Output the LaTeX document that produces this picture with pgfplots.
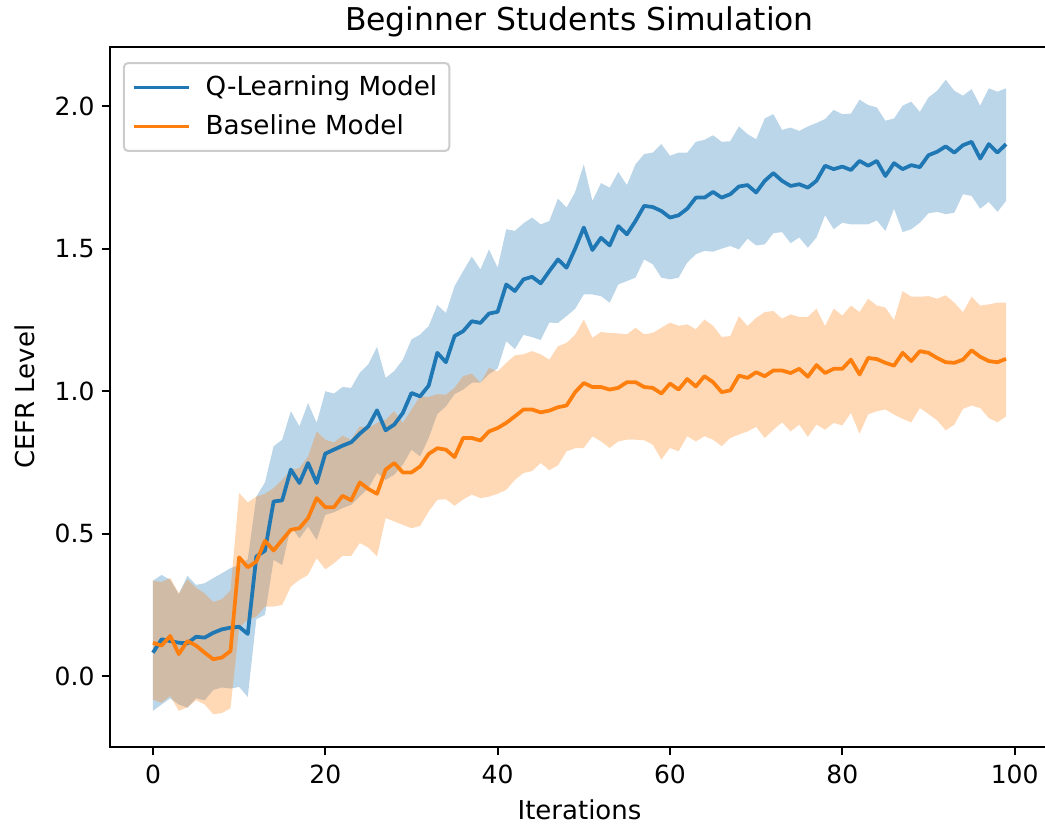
\documentclass[border=0pt]{standalone}
\usepackage{fontspec}
\setmainfont{DejaVu Sans}
\usepackage{pgfplots}
\usepackage{pgfplotstable}
\pgfplotsset{compat=1.18}
\usepgfplotslibrary{fillbetween}

\definecolor{qblue}{HTML}{1F77B4}
\definecolor{borange}{HTML}{FF7F0E}

% iteration, mean CEFR level, mean - sd, mean + sd
\pgfplotstableread{
it mean lo hi
0 0.082 -0.122 0.335
1 0.129 -0.100 0.355
2 0.123 -0.078 0.338
3 0.117 -0.100 0.288
4 0.115 -0.111 0.352
5 0.138 -0.078 0.320
6 0.135 -0.085 0.326
7 0.152 -0.049 0.344
8 0.164 -0.040 0.361
9 0.170 -0.044 0.379
10 0.173 -0.038 0.390
11 0.148 -0.073 0.410
12 0.420 0.200 0.630
13 0.440 0.215 0.680
14 0.613 0.408 0.807
15 0.617 0.390 0.830
16 0.725 0.525 0.930
17 0.678 0.484 0.877
18 0.748 0.525 0.959
19 0.678 0.478 0.889
20 0.781 0.566 1.000
21 0.795 0.575 0.992
22 0.809 0.590 1.015
23 0.821 0.601 1.012
24 0.851 0.631 1.065
25 0.877 0.660 1.095
26 0.933 0.713 1.156
27 0.863 0.689 1.047
28 0.883 0.707 1.071
29 0.924 0.742 1.111
30 0.994 0.795 1.182
31 0.982 0.771 1.199
32 1.020 0.836 1.229
33 1.135 0.920 1.303
34 1.102 0.947 1.275
35 1.194 0.990 1.369
36 1.211 1.006 1.422
37 1.246 1.030 1.473
38 1.240 1.030 1.428
39 1.273 1.060 1.498
40 1.279 1.080 1.434
41 1.375 1.176 1.569
42 1.352 1.148 1.563
43 1.393 1.198 1.590
44 1.402 1.190 1.610
45 1.379 1.180 1.586
46 1.422 1.241 1.598
47 1.463 1.240 1.677
48 1.434 1.264 1.645
49 1.501 1.290 1.700
50 1.575 1.340 1.797
51 1.496 1.340 1.668
52 1.539 1.334 1.731
53 1.512 1.311 1.715
54 1.580 1.375 1.770
55 1.551 1.387 1.724
56 1.598 1.399 1.797
57 1.651 1.463 1.833
58 1.647 1.446 1.838
59 1.633 1.399 1.868
60 1.610 1.393 1.827
61 1.618 1.399 1.838
62 1.641 1.452 1.838
63 1.680 1.481 1.876
64 1.680 1.493 1.883
65 1.700 1.490 1.899
66 1.680 1.501 1.876
67 1.692 1.510 1.878
68 1.719 1.498 1.930
69 1.724 1.536 1.903
70 1.698 1.512 1.885
71 1.739 1.516 1.958
72 1.766 1.555 1.973
73 1.739 1.559 1.918
74 1.721 1.520 1.926
75 1.727 1.540 1.914
76 1.715 1.504 1.930
77 1.739 1.540 1.942
78 1.792 1.618 1.956
79 1.780 1.569 1.988
80 1.789 1.592 1.973
81 1.777 1.586 1.975
82 1.809 1.586 2.024
83 1.792 1.586 2.005
84 1.809 1.600 1.997
85 1.756 1.563 1.950
86 1.801 1.641 1.958
87 1.780 1.559 2.003
88 1.794 1.569 2.017
89 1.787 1.592 1.981
90 1.829 1.625 2.032
91 1.841 1.630 2.055
92 1.860 1.622 2.094
93 1.838 1.627 2.055
94 1.864 1.692 2.038
95 1.876 1.686 2.061
96 1.817 1.641 2.003
97 1.868 1.665 2.064
98 1.838 1.630 2.052
99 1.868 1.668 2.064
}\qtable

\pgfplotstableread{
it mean lo hi
0 0.117 -0.083 0.335
1 0.107 -0.094 0.330
2 0.141 -0.070 0.345
3 0.077 -0.122 0.290
4 0.123 -0.110 0.340
5 0.107 -0.085 0.310
6 0.082 -0.100 0.290
7 0.059 -0.134 0.260
8 0.065 -0.130 0.270
9 0.088 -0.113 0.300
10 0.417 0.170 0.643
11 0.382 0.197 0.610
12 0.402 0.209 0.630
13 0.475 0.244 0.640
14 0.441 0.244 0.660
15 0.478 0.250 0.689
16 0.514 0.314 0.725
17 0.519 0.338 0.730
18 0.555 0.355 0.771
19 0.625 0.414 0.859
20 0.593 0.375 0.830
21 0.593 0.396 0.820
22 0.633 0.422 0.844
23 0.617 0.422 0.830
24 0.680 0.467 0.877
25 0.657 0.451 0.870
26 0.640 0.420 0.889
27 0.725 0.555 0.900
28 0.748 0.543 0.930
29 0.715 0.531 0.889
30 0.715 0.519 0.936
31 0.736 0.527 0.982
32 0.780 0.578 0.980
33 0.800 0.619 0.990
34 0.795 0.621 0.988
35 0.769 0.598 1.012
36 0.836 0.620 1.053
37 0.836 0.637 1.062
38 0.827 0.625 1.030
39 0.859 0.630 1.082
40 0.871 0.640 1.070
41 0.889 0.654 1.100
42 0.912 0.689 1.126
43 0.936 0.713 1.130
44 0.936 0.720 1.141
45 0.926 0.748 1.130
46 0.932 0.723 1.111
47 0.944 0.740 1.158
48 0.950 0.789 1.170
49 0.997 0.800 1.199
50 1.029 0.801 1.252
51 1.015 0.842 1.188
52 1.015 0.824 1.208
53 1.006 0.801 1.205
54 1.012 0.824 1.203
55 1.032 0.830 1.200
56 1.032 0.830 1.223
57 1.015 0.828 1.200
58 1.012 0.813 1.205
59 0.992 0.760 1.223
60 1.027 0.801 1.241
61 1.006 0.789 1.230
62 1.043 0.842 1.235
63 1.017 0.824 1.218
64 1.053 0.842 1.252
65 1.032 0.830 1.230
66 0.997 0.807 1.191
67 1.003 0.836 1.194
68 1.055 0.848 1.264
69 1.047 0.859 1.229
70 1.067 0.875 1.258
71 1.053 0.836 1.278
72 1.073 0.865 1.282
73 1.073 0.891 1.255
74 1.064 0.859 1.270
75 1.079 0.883 1.261
76 1.051 0.840 1.261
77 1.092 0.883 1.290
78 1.064 0.865 1.229
79 1.079 0.889 1.290
80 1.079 0.880 1.266
81 1.111 0.924 1.301
82 1.059 0.851 1.278
83 1.117 0.919 1.325
84 1.113 0.930 1.301
85 1.100 0.936 1.294
86 1.090 0.918 1.250
87 1.135 0.903 1.352
88 1.106 0.891 1.332
89 1.141 0.941 1.332
90 1.135 0.920 1.334
91 1.117 0.898 1.325
92 1.102 0.863 1.337
93 1.100 0.883 1.311
94 1.111 0.938 1.278
95 1.144 0.950 1.332
96 1.121 0.941 1.301
97 1.106 0.906 1.305
98 1.102 0.891 1.311
99 1.114 0.912 1.311
}\btable

\begin{document}
\begin{tikzpicture}
\begin{axis}[
  at={(0pt,0pt)}, anchor=south west,
  scale only axis,
  width=469.2pt, height=350pt,
  xmin=-4.95, xmax=103.95,
  ymin=-0.248, ymax=2.21,
  xtick={0,20,40,60,80,100},
  ytick={0,0.5,1,1.5,2},
  yticklabel style={/pgf/number format/.cd, fixed, fixed zerofill, precision=1},
  /pgf/number format/assume math mode=true,
  ticklabel style={font=\fontsize{12.5}{15}\selectfont},
  xtick pos=lower, ytick pos=left,
  tick align=outside,
  major tick length=4.4pt,
  every tick/.style={black, line width=1pt},
  axis line style={line width=1pt},
  xticklabel style={yshift=-1pt},
  title={Beginner Students Simulation},
  title style={font=\fontsize{15.7}{18}\selectfont, at={(axis description cs:0.5,1.018)}, anchor=center},
  xlabel={Iterations},
  xlabel style={font=\fontsize{13}{15}\selectfont, at={(axis description cs:0.5,-0.09)}, anchor=center},
  ylabel={CEFR Level},
  ylabel style={font=\fontsize{13}{15}\selectfont, at={(axis description cs:-0.0906,0.5)}, anchor=center, rotate=0},
  legend style={at={(axis description cs:0.0135,0.978)}, anchor=north west,
    draw=black!20, line width=1pt, rounded corners=2pt, fill=white, fill opacity=0.8, text opacity=1,
    font=\fontsize{13.1}{15.5}\selectfont, inner xsep=4pt, inner ysep=4.5pt,
    row sep=4pt, cells={anchor=west}},
  legend image code/.code={\draw[#1] (0pt,0pt) -- (27.5pt,0pt); \path (33pt,0pt);},
]
% standard-deviation bands
\addplot[draw=none, name path=qhi, forget plot] table[x=it, y=hi]{\qtable};
\addplot[draw=none, name path=qlo, forget plot] table[x=it, y=lo]{\qtable};
\addplot[qblue, fill opacity=0.3, draw=none, forget plot] fill between[of=qhi and qlo];
\addplot[draw=none, name path=bhi, forget plot] table[x=it, y=hi]{\btable};
\addplot[draw=none, name path=blo, forget plot] table[x=it, y=lo]{\btable};
\addplot[borange, fill opacity=0.3, draw=none, forget plot] fill between[of=bhi and blo];
% mean curves
\addplot[qblue, line width=1.875pt, line join=round] table[x=it, y=mean]{\qtable};
\addlegendentry{Q-Learning Model}
\addplot[borange, line width=1.875pt, line join=round] table[x=it, y=mean]{\btable};
\addlegendentry{Baseline Model}
\end{axis}
\pgfresetboundingbox
\useasboundingbox (-55.15pt,-40.65pt) rectangle (467.35pt,373.35pt);
\end{tikzpicture}
\end{document}
